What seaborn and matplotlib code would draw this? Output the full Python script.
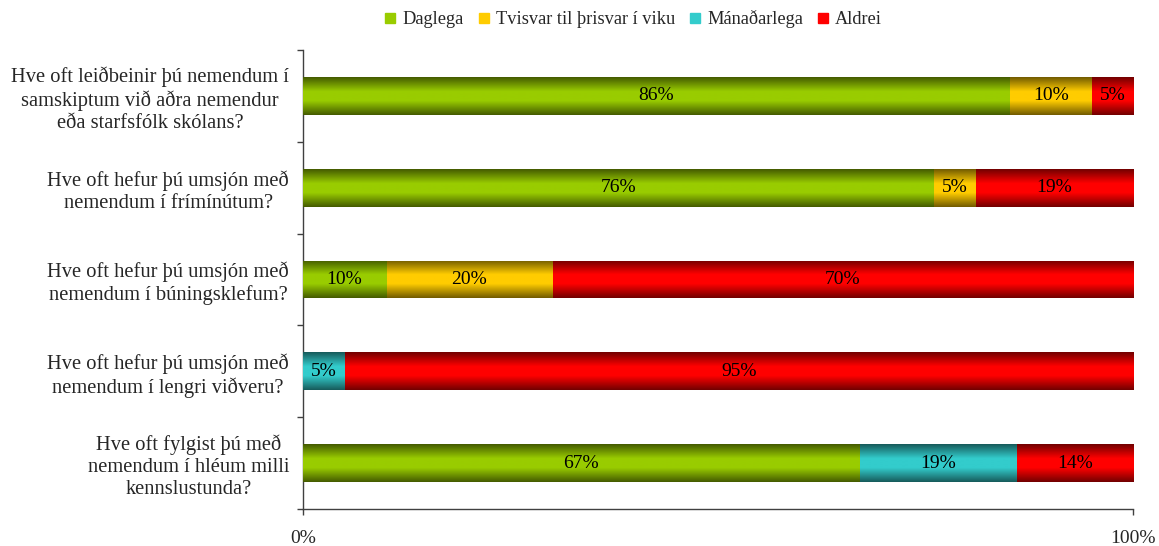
import matplotlib
matplotlib.use("Agg")
import matplotlib.pyplot as plt
import numpy as np
import pandas as pd
import seaborn as sns
from matplotlib.colors import to_rgb
from matplotlib.lines import Line2D

QUESTIONS = [
    "Hve oft leiðbeinir þú nemendum í\nsamskiptum við aðra nemendur\neða starfsfólk skólans?",
    "Hve oft hefur þú umsjón með\nnemendum í frímínútum?",
    "Hve oft hefur þú umsjón með\nnemendum í búningsklefum?",
    "Hve oft hefur þú umsjón með\nnemendum í lengri viðveru?",
    "Hve oft fylgist þú með\nnemendum í hléum milli\nkennslustunda?",
]
SERIES = ["Daglega", "Tvisvar til þrisvar í viku", "Mánaðarlega", "Aldrei"]
DAGLEGA = [86, 76, 10, 0, 67]
TVISVAR = [10, 5, 20, 0, 0]
MANADARLEGA = [0, 0, 0, 5, 19]
ALDREI = [5, 19, 70, 95, 14]
COLORS = ["#99CC00", "#FFCC00", "#33CCCC", "#FF0000"]

values = np.array([DAGLEGA, TVISVAR, MANADARLEGA, ALDREI], dtype=float)
shares = values / values.sum(axis=0) * 100
cumulative = np.cumsum(shares, axis=0)

sns.set_theme(style="white")
plt.rcParams["font.family"] = ["Liberation Serif", "DejaVu Serif"]

fig = plt.figure(figsize=(11.59, 5.46), dpi=100)
ax = fig.add_axes([0.2614, 0.0678, 0.7162, 0.8406])

BAR_WIDTH = 0.41


def gradient(color, n=64):
    base = np.array(to_rgb(color))
    t = np.linspace(0, 1, n)
    bright = 0.45 + 0.55 * np.minimum(1, (1 - np.abs(2 * t - 1)) / 0.75)
    return (bright[:, None] * base[None, :])[:, None, :]


# stacked bars: draw cumulative totals from the longest down to the shortest
for layer, i in enumerate(range(len(SERIES) - 1, -1, -1)):
    frame = pd.DataFrame({"question": QUESTIONS, "value": cumulative[i]})
    before = len(ax.patches)
    sns.barplot(data=frame, x="value", y="question", orient="h", color=COLORS[i],
                width=BAR_WIDTH, saturation=1, linewidth=0, ax=ax, zorder=2 + layer)
    for patch in ax.patches[before:]:
        x0, y0 = patch.get_x(), patch.get_y()
        w, h = patch.get_width(), patch.get_height()
        if w <= 0:
            continue
        img = ax.imshow(gradient(COLORS[i]), extent=[x0, x0 + w, y0 + h, y0],
                        aspect="auto", interpolation="bilinear", zorder=2.5 + layer)
        img.set_clip_path(patch)

# segment labels
for i in range(len(SERIES)):
    for j in range(len(QUESTIONS)):
        if values[i, j] == 0:
            continue
        mid = cumulative[i, j] - shares[i, j] / 2
        ax.text(mid, j, f"{values[i, j]:.0f}%", ha="center", va="center",
                fontsize=14, color="black", zorder=10)

ax.set_xlim(0, 100)
ax.set_ylim(len(QUESTIONS) - 0.5, -0.5)
ax.set_xticks([0, 100])
ax.set_xticklabels(["0%", "100%"], fontsize=14)
ax.set_xlabel("")
ax.set_ylabel("")
ax.set_yticks(range(len(QUESTIONS)))
ax.set_yticklabels(QUESTIONS, fontsize=14.8, multialignment="center")
ax.set_yticks(np.arange(-0.5, len(QUESTIONS)), minor=True)
ax.tick_params(axis="y", which="major", length=0, pad=10)
ax.tick_params(axis="y", which="minor", length=4, color="#404040", left=True, width=1)
ax.tick_params(axis="x", which="major", length=4, color="#404040", bottom=True, width=1, pad=11)
sns.despine(ax=ax)
for side in ["left", "bottom"]:
    ax.spines[side].set_color("#404040")
    ax.spines[side].set_linewidth(1)
ax.grid(False)

handles = [Line2D([], [], marker="s", linestyle="", markersize=7, markerfacecolor=c,
                  markeredgecolor=c) for c in COLORS]
fig.legend(handles, SERIES, loc="center", bbox_to_anchor=(0.545, 0.965), ncol=4,
           frameon=False, fontsize=13.2, handletextpad=0.15, columnspacing=0.6,
           handlelength=1.0)

fig.savefig("out.png", dpi=100)
